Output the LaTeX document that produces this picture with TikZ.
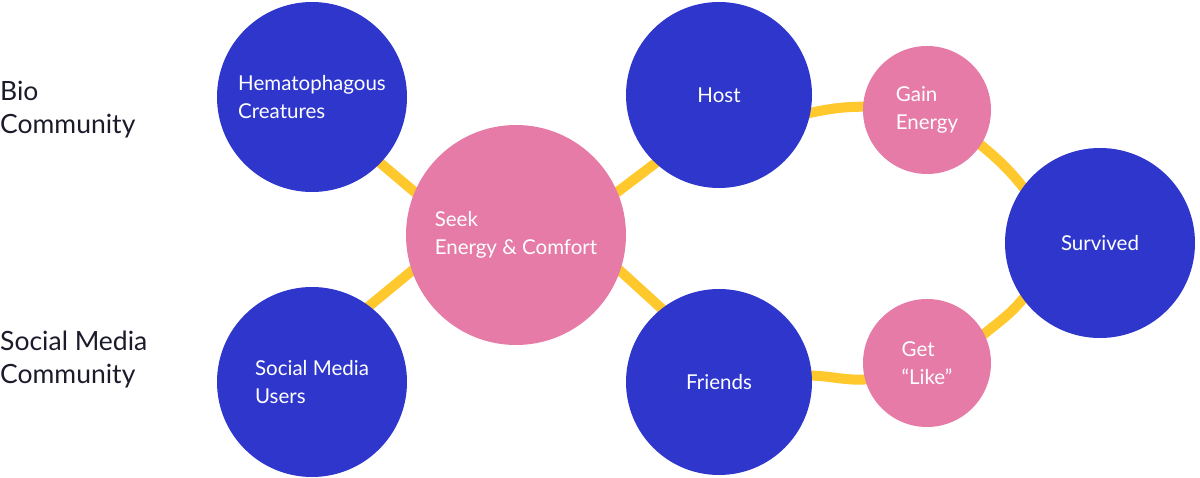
\documentclass[tikz,border=0pt]{standalone}
\usepackage{fontspec}
\setmainfont{Lato}
\usetikzlibrary{backgrounds}

\definecolor{circleblue}{RGB}{46,54,204}
\definecolor{circlepink}{RGB}{229,123,166}
\definecolor{linkyellow}{RGB}{255,200,45}
\definecolor{labelblack}{RGB}{27,27,43}

\begin{document}
\begin{tikzpicture}[x=1pt, y=1pt]
  \tikzset{
      bluenode/.style={circle, fill=circleblue, text=white, inner sep=0pt, align=left, font=\fontsize{20.5}{27.5}\selectfont},
      pinknode/.style={bluenode, fill=circlepink},
      link/.style={draw=linkyellow, line width=10pt, shorten <=-6pt, shorten >=-6pt},
      sidelabel/.style={anchor=west, inner sep=0pt, align=left, text=labelblack, font=\fontsize{26.5}{33}\selectfont}
  }
  \useasboundingbox (0,0) rectangle (1200,477);

  \node[sidelabel] (bio-label) at (0,367) {Bio\\Community};
  \node[sidelabel] (social-label) at (0,117) {Social Media\\Community};

  \node[bluenode, minimum size=190pt] (creatures) at (312,380) {Hematophagous\\Creatures};
  \node[bluenode, minimum size=190pt] (users) at (312,95) {Social Media\\Users};
  \node[pinknode, minimum size=220pt] (seek) at (516,242) {Seek\\Energy \& Comfort};
  \node[bluenode, minimum size=186pt] (host) at (719,382) {Host};
  \node[bluenode, minimum size=186pt] (friends) at (719,95) {Friends};
  \node[pinknode, minimum size=128pt] (gain) at (927,367) {Gain\\Energy};
  \node[pinknode, minimum size=128pt] (like) at (927,114) {Get\\“Like”};
  \node[bluenode, minimum size=190pt] (survived) at (1100,234) {Survived};

  \begin{scope}[on background layer]
    \draw[link] (creatures.-44) -- (seek.157);
    \draw[link] (users.53) -- (seek.199);
    \draw[link] (seek.23) -- (host.227);
    \draw[link] (seek.-19) -- (friends.128);
    \draw[link] (host.-11) to[out=12, in=180] (gain.177);
    \draw[link] (gain.-33) to[out=-40, in=128] (survived.144);
    \draw[link] (survived.216) to[out=232, in=40] (like.27);
    \draw[link] (like.195) to[out=185, in=0] (friends.4);
  \end{scope}
\end{tikzpicture}
\end{document}
